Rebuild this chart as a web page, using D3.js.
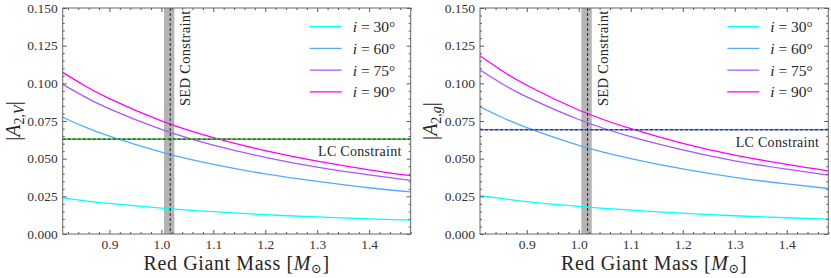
<!DOCTYPE html>
<html>
<head>
<meta charset="utf-8">
<script src="https://cdn.jsdelivr.net/npm/d3@7"></script>
<style>
  body { margin: 0; background: #fff; }
  text { font-family: "Liberation Serif", "DejaVu Serif", serif; fill: #262626; }
</style>
</head>
<body>
<svg id="fig" width="831" height="278"></svg>
<script>
// values
var mass = [0.81, 0.85, 0.9, 1.0, 1.1, 1.2, 1.3, 1.4, 1.48]
var inclinations = [30, 60, 75, 90]
var ampV30 = [0.0240, 0.0222, 0.0203, 0.0172, 0.0148, 0.0128, 0.0113, 0.0101, 0.0092]
var ampV60 = [0.0775, 0.0714, 0.0649, 0.0543, 0.0462, 0.0399, 0.0349, 0.0307, 0.0280]
var ampV75 = [0.0993, 0.0915, 0.0830, 0.0694, 0.0590, 0.0509, 0.0444, 0.0392, 0.0356]
var ampV90 = [0.1073, 0.0989, 0.0898, 0.0751, 0.0640, 0.0553, 0.0483, 0.0426, 0.0387]
var ampG30 = [0.0254, 0.0236, 0.0215, 0.0183, 0.0158, 0.0138, 0.0121, 0.0108, 0.0099]
var ampG60 = [0.0845, 0.0778, 0.0706, 0.0589, 0.0501, 0.0432, 0.0376, 0.0332, 0.0302]
var ampG75 = [0.1088, 0.1002, 0.0910, 0.0760, 0.0646, 0.0558, 0.0486, 0.0430, 0.0391]
var ampG90 = [0.1183, 0.1089, 0.0987, 0.0823, 0.0699, 0.0602, 0.0524, 0.0462, 0.0419]
var lcV = 0.063
var lcG = 0.0692
var sedMass = 1.017
var sedBand = [1.005, 1.025]
var xDomain = [0.81, 1.48]
var yDomain = [0, 0.15]
var xTicks = [0.9, 1.0, 1.1, 1.2, 1.3, 1.4]
var yTicks = [0, 0.025, 0.05, 0.075, 0.1, 0.125, 0.15]

;(function () {
  var svg = d3.select('#fig')
  var top = 8
  var bottom = 234
  var h = bottom - top

  // matplotlib "cool" colormap: cyan -> magenta
  var cool = d3.interpolateRgb('#00ffff', '#ff00ff')
  var colors = inclinations.map((d, i) => cool(i / (inclinations.length - 1)))

  function panel (opts) {
    var w = opts.right - opts.left
    var g = svg.append('g').attr('transform', `translate(${opts.left},${top})`)

    var x = d3.scaleLinear().domain(xDomain).range([0, w])
    var y = d3.scaleLinear().domain(yDomain).range([h, 0])

    var clip = 'clip-' + opts.id
    g.append('clipPath').attr('id', clip)
      .append('rect').attr('width', w).attr('height', h)

    var plot = g.append('g').attr('clip-path', `url(#${clip})`)

    /*
        --------------------------------------
        SED constraint band
    */
    plot.append('rect')
      .attr('x', x(sedBand[0]))
      .attr('width', x(sedBand[1]) - x(sedBand[0]))
      .attr('y', 0)
      .attr('height', h)
      .style('fill', '#8c8c8c')
      .style('opacity', 0.65)

    /*
        --------------------------------------
        Curves
    */
    var line = d3.line()
      .x((d, i) => x(mass[i]))
      .y(d => y(d))
      .curve(d3.curveNatural)

    opts.series.forEach(function (s, i) {
      plot.append('path')
        .attr('d', line(s))
        .style('fill', 'none')
        .style('stroke', colors[i])
        .style('stroke-width', 1.3)
    })

    // LC constraint, solid light line with dark dashes on top
    plot.append('line')
      .attr('x1', 0).attr('x2', w)
      .attr('y1', y(opts.lc)).attr('y2', y(opts.lc))
      .style('stroke', opts.lcLight)
      .style('stroke-width', 1.6)
    plot.append('line')
      .attr('x1', 0).attr('x2', w)
      .attr('y1', y(opts.lc)).attr('y2', y(opts.lc))
      .style('stroke', opts.lcDark)
      .style('stroke-width', 1.1)
      .style('stroke-dasharray', '3,2')

    plot.append('line')
      .attr('x1', x(sedMass)).attr('x2', x(sedMass))
      .attr('y1', 0).attr('y2', h)
      .style('stroke', '#222')
      .style('stroke-width', 1)
      .style('stroke-dasharray', '3,2')

    /*
        --------------------------------------
        Annotations
    */
    g.append('text')
      .attr('transform', `translate(${x(sedMass) + 20},98) rotate(-90)`)
      .style('font-size', '14.5px')
      .style('letter-spacing', '0.3px')
      .text('SED Constraint')

    g.append('text')
      .attr('x', w - 9)
      .attr('y', y(opts.lc) + 17)
      .style('text-anchor', 'end')
      .style('font-size', '14px')
      .style('letter-spacing', '0.3px')
      .text('LC Constraint')

    /*
        --------------------------------------
        Legend
    */
    var leg = g.append('g').attr('transform', `translate(${w - 101},18.7)`)
    inclinations.forEach(function (inc, i) {
      var row = leg.append('g').attr('transform', `translate(0,${i * 21.7})`)
      row.append('line')
        .attr('x1', 0).attr('x2', 32)
        .style('stroke', colors[i])
        .style('stroke-width', 1.3)
      var t = row.append('text')
        .attr('x', 43)
        .attr('dy', '0.35em')
        .style('font-size', '15.5px')
      t.append('tspan').style('font-style', 'italic').text('i')
      t.append('tspan').text(` = ${inc}°`)
    })

    /*
        --------------------------------------
        Axes, ticks pointing in on all four sides
    */
    var xMinor = d3.range(0.82, 1.481, 0.02).filter(v => !xTicks.some(t => Math.abs(t - v) < 1e-6))
    var yMinor = d3.range(0, 0.1501, 0.005).filter(v => !yTicks.some(t => Math.abs(t - v) < 1e-6))

    function axes (axisFn, scale, major, minor, transform, fmt) {
      var a = g.append('g').classed('ax', true).attr('transform', transform)
      a.call(axisFn(scale).tickValues(major).tickSize(-4).tickPadding(5)
        .tickFormat(fmt || ''))
      var m = g.append('g').classed('ax', true).attr('transform', transform)
      m.call(axisFn(scale).tickValues(minor).tickSize(-2).tickFormat(''))
    }

    axes(d3.axisBottom, x, xTicks, xMinor, `translate(0,${h})`, d3.format('.1f'))
    axes(d3.axisTop, x, xTicks, xMinor, 'translate(0,0)')
    axes(d3.axisLeft, y, yTicks, yMinor, 'translate(0,0)', d3.format('.3f'))
    axes(d3.axisRight, y, yTicks, yMinor, `translate(${w},0)`)

    g.selectAll('.ax').attr('font-family', null).attr('font-size', null)
    g.selectAll('.ax .domain').remove()
    g.selectAll('.ax line').style('stroke', '#555')
    g.selectAll('.ax text')
      .style('font-size', '13.5px')
      .style('fill', '#333')

    g.append('rect')
      .attr('width', w).attr('height', h)
      .style('fill', 'none')
      .style('stroke', '#666')
      .style('stroke-width', 1)

    /*
        --------------------------------------
        Axis labels
    */
    var xl = g.append('text')
      .attr('x', w / 2)
      .attr('y', 262)
      .style('text-anchor', 'middle')
      .style('font-size', '20px')
      .style('letter-spacing', '0.6px')
    xl.append('tspan').text('Red Giant Mass [')
    xl.append('tspan').style('font-style', 'italic').text('M')
    xl.append('tspan').attr('dy', 3).style('font-size', '13px').text('⊙')
    xl.append('tspan').attr('dy', -3).text(']')

    var yl = g.append('text')
      .attr('transform', `translate(${opts.ylabelX},${h / 2}) rotate(-90)`)
      .style('text-anchor', 'middle')
      .style('font-size', '20px')
    yl.append('tspan').text('|')
    yl.append('tspan').style('font-style', 'italic').text('A')
    yl.append('tspan').attr('dy', 4).style('font-size', '14px').text('2,')
    yl.append('tspan').style('font-size', '14px').style('font-style', 'italic').text(opts.band)
    yl.append('tspan').attr('dy', -4).text('|')
  }

  panel({
    id: 'v',
    left: 62.7,
    right: 410.7,
    series: [ampV30, ampV60, ampV75, ampV90],
    lc: lcV,
    lcLight: '#5cc45c',
    lcDark: '#0b5d0b',
    band: 'V',
    ylabelX: -43
  })

  panel({
    id: 'g',
    left: 480,
    right: 828.3,
    series: [ampG30, ampG60, ampG75, ampG90],
    lc: lcG,
    lcLight: '#6f86e0',
    lcDark: '#14147a',
    band: 'g',
    ylabelX: -43
  })
})()
</script>
</body>
</html>
